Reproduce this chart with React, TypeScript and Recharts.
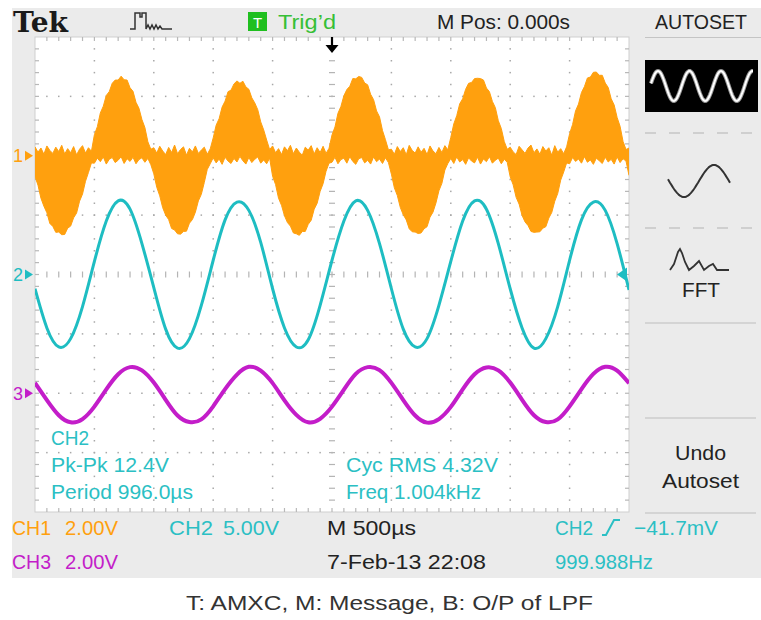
import React from 'react';
import { ComposedChart, Area, Line, XAxis, YAxis } from 'recharts';

// ---------- data (volts vs time in ms) ----------
const timeFine = [
  0, 0.025, 0.05, 0.075, 0.1, 0.125, 0.15, 0.175, 0.2, 0.225, 0.25, 0.275, 0.3, 0.325, 0.35, 0.375, 0.4, 0.425, 0.45, 0.475,
  0.5, 0.525, 0.55, 0.575, 0.6, 0.625, 0.65, 0.675, 0.7, 0.725, 0.75, 0.775, 0.8, 0.825, 0.85, 0.875, 0.9, 0.925, 0.95, 0.975,
  1, 1.025, 1.05, 1.075, 1.1, 1.125, 1.15, 1.175, 1.2, 1.225, 1.25, 1.275, 1.3, 1.325, 1.35, 1.375, 1.4, 1.425, 1.45, 1.475,
  1.5, 1.525, 1.55, 1.575, 1.6, 1.625, 1.65, 1.675, 1.7, 1.725, 1.75, 1.775, 1.8, 1.825, 1.85, 1.875, 1.9, 1.925, 1.95, 1.975,
  2, 2.025, 2.05, 2.075, 2.1, 2.125, 2.15, 2.175, 2.2, 2.225, 2.25, 2.275, 2.3, 2.325, 2.35, 2.375, 2.4, 2.425, 2.45, 2.475,
  2.5, 2.525, 2.55, 2.575, 2.6, 2.625, 2.65, 2.675, 2.7, 2.725, 2.75, 2.775, 2.8, 2.825, 2.85, 2.875, 2.9, 2.925, 2.95, 2.975,
  3, 3.025, 3.05, 3.075, 3.1, 3.125, 3.15, 3.175, 3.2, 3.225, 3.25, 3.275, 3.3, 3.325, 3.35, 3.375, 3.4, 3.425, 3.45, 3.475,
  3.5, 3.525, 3.55, 3.575, 3.6, 3.625, 3.65, 3.675, 3.7, 3.725, 3.75, 3.775, 3.8, 3.825, 3.85, 3.875, 3.9, 3.925, 3.95, 3.975,
  4, 4.025, 4.05, 4.075, 4.1, 4.125, 4.15, 4.175, 4.2, 4.225, 4.25, 4.275, 4.3, 4.325, 4.35, 4.375, 4.4, 4.425, 4.45, 4.475,
  4.5, 4.525, 4.55, 4.575, 4.6, 4.625, 4.65, 4.675, 4.7, 4.725, 4.75, 4.775, 4.8, 4.825, 4.85, 4.875, 4.9, 4.925, 4.95, 4.975,
  5,
];

// CH1 (AM signal): upper / lower edge of the filled carrier band, volts
const ch1High = [
  0.3, 0.12, 0.26, 0.05, 0.33, 0.18, 0.08, 0.29, 0.14, 0.35, 0.06, 0.24, 0.1, 0.31, 0.03, 0.22, 0.34, 0.09, 0.27, 0.15,
  0.71, 0.98, 1.44, 1.67, 2.03, 2.16, 2.44, 2.55, 2.55, 2.68, 2.56, 2.55, 2.29, 2.17, 1.8, 1.6, 1.22, 0.95, 0.47, 0.22,
  0.27, 0.09, 0.32, 0.16, 0.04, 0.28, 0.11, 0.36, 0.07, 0.21, 0.3, 0.02, 0.25, 0.13, 0.33, 0.08, 0.19, 0.29, 0.05, 0.23,
  0.6, 1.03, 1.25, 1.64, 1.84, 2.16, 2.21, 2.42, 2.52, 2.44, 2.51, 2.32, 2.24, 1.95, 1.78, 1.55, 1.14, 0.87, 0.53, 0.21,
  0.33, 0.1, 0.24, 0.04, 0.3, 0.17, 0.35, 0.07, 0.26, 0.12, 0.02, 0.29, 0.19, 0.34, 0.06, 0.27, 0.11, 0.32, 0.08, 0.25,
  0.7, 0.97, 1.43, 1.66, 2.02, 2.23, 2.34, 2.6, 2.59, 2.67, 2.64, 2.45, 2.39, 2.07, 1.89, 1.51, 1.31, 0.85, 0.54, 0.2,
  0.22, 0.05, 0.31, 0.14, 0.27, 0.03, 0.35, 0.18, 0.09, 0.3, 0.12, 0.25, 0.04, 0.33, 0.16, 0.07, 0.28, 0.11, 0.34, 0.2,
  0.62, 1.07, 1.35, 1.75, 1.92, 2.24, 2.44, 2.47, 2.6, 2.61, 2.6, 2.55, 2.28, 2.16, 1.83, 1.62, 1.18, 0.92, 0.48, 0.22,
  0.29, 0.13, 0.04, 0.32, 0.2, 0.08, 0.26, 0.36, 0.1, 0.23, 0.05, 0.31, 0.16, 0.27, 0.02, 0.34, 0.12, 0.24, 0.07, 0.3,
  0.74, 1.05, 1.51, 1.74, 2.13, 2.33, 2.62, 2.65, 2.81, 2.82, 2.71, 2.71, 2.45, 2.3, 1.92, 1.71, 1.29, 0.99, 0.48, 0.21,
  0.26,
];
const ch1Low = [
  -0.7, -0.99, -1.43, -1.7, -1.92, -2.28, -2.38, -2.58, -2.57, -2.66, -2.65, -2.44, -2.37, -2.09, -1.93, -1.53, -1.29, -0.86, -0.56, -0.24,
  -0.25, -0.08, -0.2, -0.04, -0.28, -0.12, -0.06, -0.23, -0.15, -0.03, -0.26, -0.1, -0.19, -0.05, -0.27, -0.13, -0.07, -0.22, -0.09, -0.3,
  -0.61, -1.06, -1.35, -1.75, -2.0, -2.15, -2.45, -2.5, -2.63, -2.64, -2.55, -2.54, -2.27, -2.15, -1.9, -1.52, -1.3, -0.9, -0.46, -0.27,
  -0.07, -0.24, -0.11, -0.29, -0.05, -0.18, -0.26, -0.09, -0.21, -0.02, -0.17, -0.28, -0.06, -0.23, -0.12, -0.04, -0.25, -0.14, -0.27, -0.08,
  -0.69, -0.97, -1.43, -1.67, -2.02, -2.25, -2.37, -2.6, -2.63, -2.68, -2.55, -2.55, -2.31, -2.17, -1.8, -1.6, -1.2, -0.94, -0.52, -0.25,
  -0.22, -0.05, -0.27, -0.13, -0.08, -0.25, -0.03, -0.19, -0.29, -0.1, -0.06, -0.24, -0.15, -0.28, -0.04, -0.2, -0.11, -0.26, -0.07, -0.23,
  -0.62, -1.08, -1.34, -1.74, -1.99, -2.16, -2.46, -2.56, -2.57, -2.62, -2.6, -2.46, -2.39, -2.07, -1.9, -1.59, -1.18, -0.93, -0.48, -0.26,
  -0.09, -0.26, -0.04, -0.21, -0.13, -0.29, -0.07, -0.18, -0.24, -0.05, -0.28, -0.11, -0.2, -0.03, -0.25, -0.15, -0.08, -0.27, -0.12, -0.22,
  -0.71, -0.98, -1.4, -1.63, -2.01, -2.23, -2.35, -2.55, -2.58, -2.57, -2.56, -2.44, -2.39, -2.1, -1.91, -1.53, -1.27, -0.82, -0.55, -0.24,
  -0.27, -0.06, -0.19, -0.11, -0.25, -0.03, -0.22, -0.14, -0.29, -0.08, -0.17, -0.26, -0.05, -0.21, -0.12, -0.28, -0.04, -0.23, -0.1, -0.18,
  -0.66,
];

const timeCoarse = [
  0, 0.1, 0.2, 0.3, 0.4, 0.5, 0.6, 0.7, 0.8, 0.9,
  1, 1.1, 1.2, 1.3, 1.4, 1.5, 1.6, 1.7, 1.8, 1.9,
  2, 2.1, 2.2, 2.3, 2.4, 2.5, 2.6, 2.7, 2.8, 2.9,
  3, 3.1, 3.2, 3.3, 3.4, 3.5, 3.6, 3.7, 3.8, 3.9,
  4, 4.1, 4.2, 4.3, 4.4, 4.5, 4.6, 4.7, 4.8, 4.9,
  5,
];

// CH2 (message), volts
const ch2Volts = [
  -1.2, -4.5, -6.1, -5.4, -2.7, 1.1, 4.5, 6.2, 5.5, 2.6,
  -1.1, -4.6, -6.2, -5.4, -2.6, 1.2, 4.6, 6.1, 5.4, 2.7,
  -1.2, -4.5, -6.1, -5.5, -2.6, 1.2, 4.5, 6.2, 5.4, 2.6,
  -1.2, -4.6, -6.1, -5.4, -2.6, 1.1, 4.5, 6.2, 5.5, 2.6,
  -1.2, -4.5, -6.2, -5.4, -2.7, 1.2, 4.6, 6.1, 5.4, 2.6,
  -1.3,
];

// CH3 (output of LPF), volts
const ch3Volts = [
  0.35, -0.23, -0.74, -0.98, -0.87, -0.45, 0.13, 0.64, 0.88, 0.77,
  0.36, -0.22, -0.75, -0.97, -0.88, -0.44, 0.14, 0.63, 0.89, 0.76,
  0.34, -0.24, -0.73, -0.98, -0.86, -0.45, 0.12, 0.65, 0.88, 0.78,
  0.35, -0.23, -0.75, -0.99, -0.87, -0.46, 0.13, 0.64, 0.87, 0.77,
  0.36, -0.22, -0.74, -0.97, -0.88, -0.44, 0.14, 0.65, 0.89, 0.76,
  0.34,
];

const channelNames = ['CH1', 'CH2', 'CH3'];
const voltsPerDiv = [2, 5, 2];
const offsetDiv = [2, 0, -2];
const timeDomain = [0, 5];
const divDomain = [-4, 4];

// ---------- derived tables ----------
const ch1Data = timeFine.map((t, i) => ({
  t,
  ch1: [ch1Low[i] / voltsPerDiv[0] + offsetDiv[0], ch1High[i] / voltsPerDiv[0] + offsetDiv[0]],
}));
const ch2Data = timeCoarse.map((t, i) => ({ t, ch2: ch2Volts[i] / voltsPerDiv[1] + offsetDiv[1] }));
const ch3Data = timeCoarse.map((t, i) => ({ t, ch3: ch3Volts[i] / voltsPerDiv[2] + offsetDiv[2] }));

// ---------- styling ----------
const ORANGE = '#ffa00e';
const CYAN = '#1ebdc2';
const CYAN_TXT = '#2bbfc4';
const MAGENTA = '#c31dc9';
const GRAY_BG = '#ebebeb';
const FONT = "'Liberation Sans', Arial, Helvetica, sans-serif";

const PX = 35;
const PY = 37;
const PW = 594;
const PH = 475;
const DX = PW / 10;
const DY = PH / 8;

type TP = {
  x: number; y: number; w: number; s?: number; c?: string; anchor?: 'start' | 'middle' | 'end';
  family?: string; weight?: string | number; children: React.ReactNode;
};
const Txt = ({ x, y, w, s = 21, c = '#222', anchor = 'start', family, weight, children }: TP) => (
  <text
    x={x}
    y={y}
    fontSize={s}
    fill={c}
    fontFamily={family || FONT}
    fontWeight={weight}
    textAnchor={anchor}
    textLength={w}
    lengthAdjust="spacingAndGlyphs"
  >
    {children}
  </text>
);

function wavePath(x0: number, x1: number, cy: number, amp: number, period: number, xRef: number) {
  let d = '';
  for (let x = x0; x <= x1 + 0.01; x += 1) {
    const y = cy + amp * Math.cos((2 * Math.PI * (x - xRef)) / period);
    d += (d ? ' L' : 'M') + x.toFixed(1) + ',' + y.toFixed(1);
  }
  return d;
}

function Graticule() {
  const els: React.ReactNode[] = [];
  const dotC = '#a8a8a8';
  for (let k = 1; k <= 9; k++) {
    if (k === 5) continue;
    const x = PX + k * DX;
    for (let m = 1; m < 40; m++) {
      const y = PY + (m * DY) / 5;
      els.push(<rect key={`v${k}-${m}`} x={x - 0.75} y={y - 0.75} width={1.5} height={1.5} fill={dotC} />);
    }
  }
  for (let k = 1; k <= 7; k++) {
    if (k === 4) continue;
    const y = PY + k * DY;
    for (let m = 1; m < 50; m++) {
      const x = PX + (m * DX) / 5;
      els.push(<rect key={`h${k}-${m}`} x={x - 0.75} y={y - 0.75} width={1.5} height={1.5} fill={dotC} />);
    }
  }
  const cx = PX + 5 * DX;
  const cy = PY + 4 * DY;
  for (let m = 1; m < 40; m++) {
    const y = PY + (m * DY) / 5;
    els.push(<line key={`cv${m}`} x1={cx - 3} x2={cx + 3} y1={y} y2={y} stroke="#b4b4b4" strokeWidth={1.2} />);
  }
  for (let m = 1; m < 50; m++) {
    const x = PX + (m * DX) / 5;
    els.push(<line key={`ch${m}`} x1={x} x2={x} y1={cy - 3} y2={cy + 3} stroke="#b4b4b4" strokeWidth={1.2} />);
  }
  for (let m = 1; m < 50; m++) {
    const x = PX + (m * DX) / 5;
    els.push(<line key={`tt${m}`} x1={x} x2={x} y1={PY} y2={PY + 4} stroke="#b8b8b8" strokeWidth={1.2} />);
    els.push(<line key={`tb${m}`} x1={x} x2={x} y1={PY + PH - 4} y2={PY + PH} stroke="#b8b8b8" strokeWidth={1.2} />);
  }
  for (let m = 1; m < 40; m++) {
    const y = PY + (m * DY) / 5;
    els.push(<line key={`tl${m}`} x1={PX} x2={PX + 4} y1={y} y2={y} stroke="#b8b8b8" strokeWidth={1.2} />);
    els.push(<line key={`tr${m}`} x1={PX + PW - 4} x2={PX + PW} y1={y} y2={y} stroke="#b8b8b8" strokeWidth={1.2} />);
  }
  return <g>{els}</g>;
}

function Background() {
  const ch1Y = PY + (4 - offsetDiv[0]) * DY;
  const ch2Y = PY + (4 - offsetDiv[1]) * DY;
  const ch3Y = PY + (4 - offsetDiv[2]) * DY;
  const marker = (y: number, label: string, color: string) => (
    <g>
      <text x={13} y={y + 6.5} fontSize={18} fill={color} fontFamily={FONT}>{label}</text>
      <polygon points={`${25},${y - 5} ${33},${y} ${25},${y + 5}`} fill={color} />
    </g>
  );
  return (
    <svg width={761} height={620} style={{ position: 'absolute', left: 0, top: 0 }}>
      <rect x={0} y={0} width={761} height={620} fill="#ffffff" />
      <rect x={12} y={8} width={749} height={570} fill={GRAY_BG} />
      {/* top bar */}
      <Txt x={13} y={32} w={55} s={27} c="#1a1a1a" family="'DejaVu Serif', 'Liberation Serif', serif" weight="bold">Tek</Txt>
      <polyline
        points="130,29 135,29 135,13 140,13 140,17 142,17 142,13 146,13 146,29 148,25 150,29 152,25 154,29 156,25 158,29 160,26 162,29 172,29"
        fill="none" stroke="#333" strokeWidth={1.5}
      />
      <rect x={248} y={12} width={19} height={19} fill="#1fbf1f" />
      <text x={257.5} y={27.5} fontSize={15} fill="#ffffff" fontFamily={FONT} textAnchor="middle">T</text>
      <Txt x={278} y={29} w={58} c="#36bf36">Trig’d</Txt>
      <Txt x={437} y={29} w={133}>M Pos: 0.000s</Txt>
      <Txt x={655} y={29} w={92}>AUTOSET</Txt>
      <line x1={645} x2={761} y1={37.5} y2={37.5} stroke="#c4c4c4" strokeWidth={1} />

      {/* right panel */}
      <rect x={645} y={60} width={113} height={52} fill="#000" />
      <path d={wavePath(651, 753, 86, 15, 31.5, 673.75)} fill="none" stroke="#9a9a9a" strokeWidth={4} />
      <path d={wavePath(651, 753, 86, 15, 31.5, 673.75)} fill="none" stroke="#ffffff" strokeWidth={2} />
      <line x1={645} x2={756} y1={133} y2={133} stroke="#c6c6c6" strokeWidth={1.5} strokeDasharray="11 13" />
      <path d={wavePath(668, 730, 181, 16, 60, 684)} fill="none" stroke="#333" strokeWidth={2} />
      <line x1={645} x2={756} y1={228} y2={228} stroke="#c6c6c6" strokeWidth={1.5} strokeDasharray="11 13" />
      <polyline
        points="670,270 674,264 678,252 680,249 682,253 685,262 689,270 694,266 699,261 704,270 709,266 713,264 717,270 729,270"
        fill="none" stroke="#333" strokeWidth={1.8}
      />
      <Txt x={701} y={297} w={38} s={20} anchor="middle">FFT</Txt>
      <line x1={645} x2={756} y1={323} y2={323} stroke="#bdbdbd" strokeWidth={1.2} />
      <line x1={645} x2={756} y1={418} y2={418} stroke="#bdbdbd" strokeWidth={1.2} />
      <Txt x={700.5} y={460} w={51} anchor="middle">Undo</Txt>
      <Txt x={700.5} y={488} w={77} anchor="middle">Autoset</Txt>
      <line x1={645} x2={756} y1={513} y2={513} stroke="#bdbdbd" strokeWidth={1.2} />

      {/* plot area */}
      <rect x={PX} y={PY} width={PW} height={PH} fill="#ffffff" stroke="#cfcfcf" strokeWidth={1} />
      <Graticule />

      {/* channel markers */}
      {marker(ch1Y, '1', ORANGE)}
      {marker(ch2Y, '2', CYAN)}
      {marker(ch3Y, '3', MAGENTA)}

      {/* measurements */}
      <Txt x={51} y={445} w={38} c={CYAN_TXT}>{channelNames[1]}</Txt>
      <Txt x={51} y={472} w={118} c={CYAN_TXT}>Pk-Pk 12.4V</Txt>
      <Txt x={51} y={499} w={142} c={CYAN_TXT}>Period 996.0µs</Txt>
      <Txt x={346} y={472} w={152} c={CYAN_TXT}>Cyc RMS 4.32V</Txt>
      <Txt x={346} y={499} w={135} c={CYAN_TXT}>Freq 1.004kHz</Txt>

      {/* bottom readouts */}
      <Txt x={12} y={535} w={39} c={ORANGE}>{channelNames[0]}</Txt>
      <Txt x={65} y={535} w={53} c={ORANGE}>2.00V</Txt>
      <Txt x={169} y={535} w={44} c={CYAN_TXT}>{channelNames[1]}</Txt>
      <Txt x={223} y={535} w={56} c={CYAN_TXT}>5.00V</Txt>
      <Txt x={327} y={535} w={89}>M 500µs</Txt>
      <Txt x={555} y={535} w={38} c={CYAN_TXT}>{channelNames[1]}</Txt>
      <polyline points="602,535 606,535 614,520 620,520" fill="none" stroke={CYAN_TXT} strokeWidth={2} />
      <Txt x={634} y={535} w={84} c={CYAN_TXT}>−41.7mV</Txt>
      <Txt x={12} y={569} w={39} c={MAGENTA}>{channelNames[2]}</Txt>
      <Txt x={65} y={569} w={53} c={MAGENTA}>2.00V</Txt>
      <Txt x={327} y={569} w={159}>7-Feb-13 22:08</Txt>
      <Txt x={555} y={569} w={98} c={CYAN_TXT}>999.988Hz</Txt>

      {/* caption */}
      <Txt x={186} y={610} w={407} s={20} c="#333">T: AMXC, M: Message, B: O/P of LPF</Txt>
    </svg>
  );
}

function Overlay() {
  const cx = PX + 5 * DX;
  const trigY = PY + 4 * DY;
  return (
    <svg width={761} height={620} style={{ position: 'absolute', left: 0, top: 0, pointerEvents: 'none' }}>
      <line x1={cx} x2={cx} y1={PY} y2={PY + 9} stroke="#000" strokeWidth={2.2} />
      <polygon points={`${cx - 6.5},${PY + 8} ${cx + 6.5},${PY + 8} ${cx},${PY + 16}`} fill="#000" />
      <polygon points={`${PX + PW - 12},${trigY} ${PX + PW - 2},${trigY - 7} ${PX + PW - 2},${trigY + 7}`} fill={CYAN} />
    </svg>
  );
}

export default function App() {
  return (
    <div style={{ position: 'absolute', left: 0, top: 0, width: 761, height: 620, background: '#fff' }}>
      <Background />
      <div style={{ position: 'absolute', left: PX, top: PY, width: PW, height: PH }}>
        <ComposedChart width={PW} height={PH} margin={{ top: 0, right: 0, bottom: 0, left: 0 }}>
          <XAxis type="number" dataKey="t" domain={timeDomain} hide allowDataOverflow />
          <YAxis type="number" domain={divDomain} hide allowDataOverflow />
          <Area
            data={ch1Data}
            dataKey="ch1"
            type="linear"
            stroke={ORANGE}
            strokeWidth={1}
            fill={ORANGE}
            fillOpacity={1}
            dot={false}
            activeDot={false}
            isAnimationActive={false}
          />
          <Line
            data={ch2Data}
            dataKey="ch2"
            type="natural"
            stroke={CYAN}
            strokeWidth={3}
            dot={false}
            activeDot={false}
            isAnimationActive={false}
          />
          <Line
            data={ch3Data}
            dataKey="ch3"
            type="natural"
            stroke={MAGENTA}
            strokeWidth={4}
            dot={false}
            activeDot={false}
            isAnimationActive={false}
          />
        </ComposedChart>
      </div>
      <Overlay />
    </div>
  );
}
